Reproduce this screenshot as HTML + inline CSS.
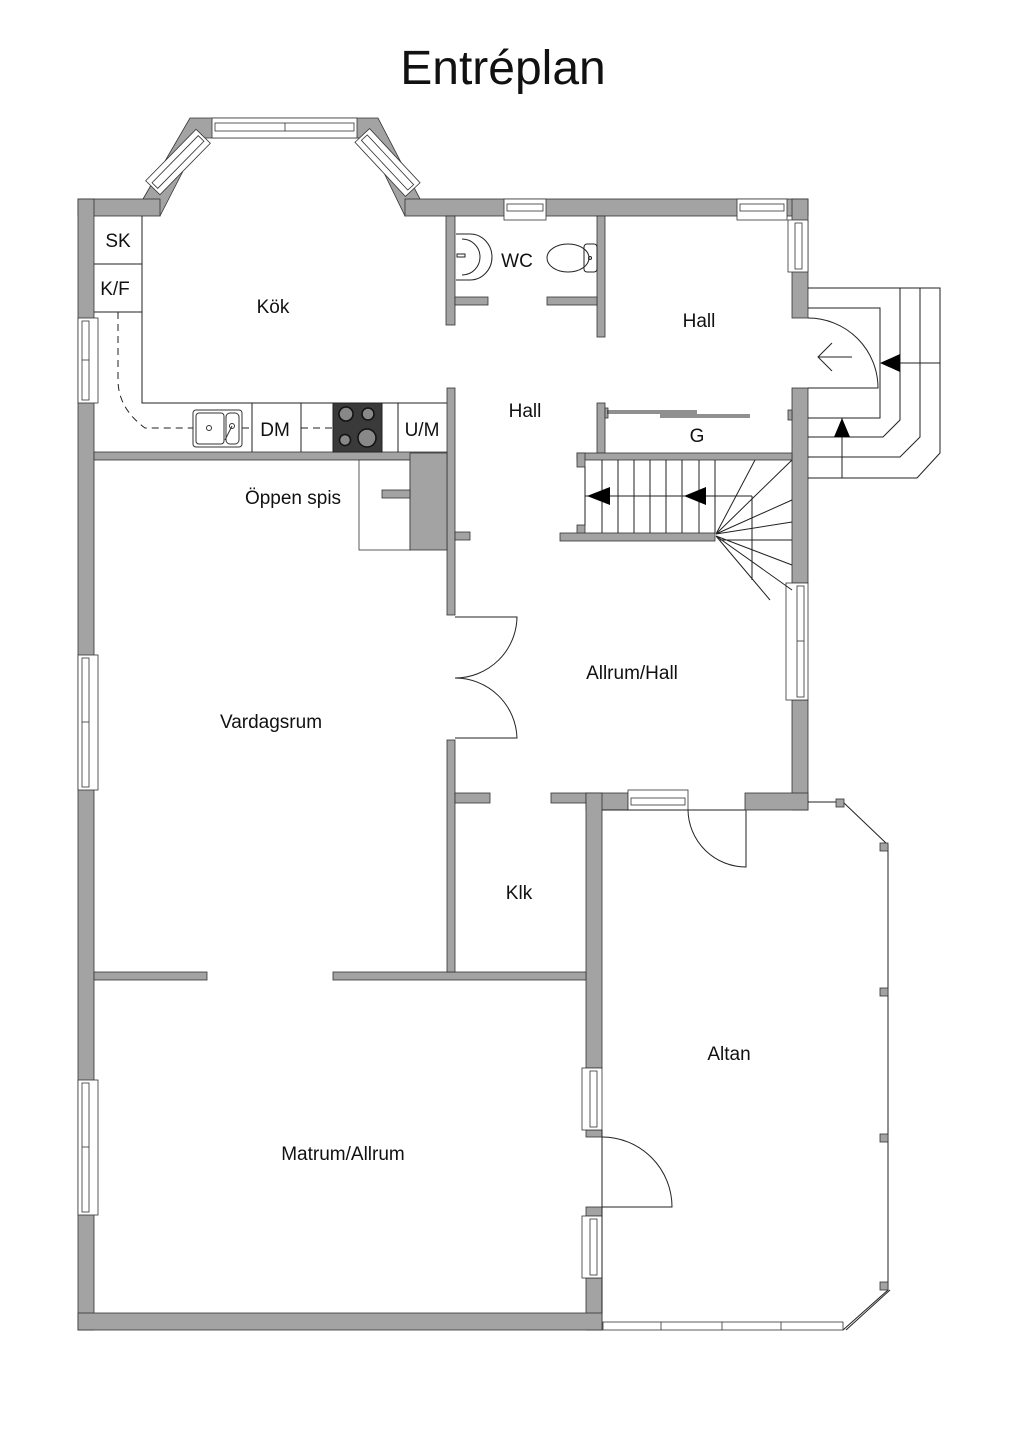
<!DOCTYPE html>
<html><head><meta charset="utf-8"><style>
html,body{margin:0;padding:0;background:#fff}
svg{display:block}
text{font-family:"Liberation Sans",sans-serif;fill:#111}
.w{fill:#a3a3a3;stroke:#333;stroke-width:0.8}
.l{fill:none;stroke:#222;stroke-width:1}
.win{fill:#fff;stroke:#333;stroke-width:0.8}
</style></head><body>
<svg width="1024" height="1448" viewBox="0 0 1024 1448" xmlns="http://www.w3.org/2000/svg">
<text x="503" y="84" font-size="48" text-anchor="middle">Entréplan</text>

<!-- bay band -->
<path class="w" fill-rule="evenodd" d="M143,199 L190,118 L378,118 L420,199 L405,216 L367,138 L200,138 L160,216 Z"/>
<!-- walls -->
<rect class="w" x="78" y="199" width="82" height="17"/>
<rect class="w" x="405" y="199" width="403" height="17"/>
<rect class="w" x="78" y="199" width="16" height="1131"/>
<rect class="w" x="792" y="199" width="16" height="119"/>
<rect class="w" x="792" y="388" width="16" height="195"/>
<rect class="w" x="792" y="700" width="16" height="110"/>
<rect class="w" x="745" y="793" width="63" height="17"/>
<rect class="w" x="586" y="793" width="42" height="17"/>
<rect class="w" x="551" y="793" width="35" height="10"/>
<rect class="w" x="586" y="793" width="16" height="275"/>
<rect class="w" x="586" y="1130" width="16" height="7"/>
<rect class="w" x="586" y="1207" width="16" height="9"/>
<rect class="w" x="586" y="1278" width="16" height="52"/>
<rect class="w" x="78" y="1313" width="524" height="17"/>
<rect class="w" x="94" y="972" width="113" height="8"/>
<rect class="w" x="333" y="972" width="253" height="8"/>
<rect class="w" x="447" y="740" width="8" height="232"/>
<rect class="w" x="455" y="793" width="35" height="10"/>
<rect class="w" x="447" y="388" width="8" height="227"/>
<rect class="w" x="455" y="532" width="15" height="8"/>
<rect class="w" x="94" y="452" width="353" height="8"/>
<rect x="359" y="460" width="51" height="90" fill="#fff" stroke="#333" stroke-width="0.8"/>
<rect class="w" x="410" y="453" width="37" height="97"/>
<rect class="w" x="382" y="490" width="28" height="8"/>
<rect class="w" x="446" y="216" width="9" height="109"/>
<rect class="w" x="455" y="297" width="33" height="8"/>
<rect class="w" x="597" y="216" width="8" height="121"/>
<rect class="w" x="547" y="297" width="50" height="8"/>
<rect class="w" x="597" y="403" width="8" height="50"/>
<rect class="w" x="605" y="408" width="3" height="10"/>
<rect class="w" x="577" y="453" width="215" height="7"/>
<rect class="w" x="577" y="453" width="8" height="14"/>
<rect class="w" x="577" y="525" width="8" height="10"/>
<rect class="w" x="560" y="533" width="155" height="8"/>
<rect class="w" x="788" y="410" width="4" height="10"/>

<!-- windows -->
<g class="win">
<rect x="212" y="118" width="145" height="20"/><rect x="215" y="123" width="139" height="8"/><line x1="285" y1="123" x2="285" y2="131"/>
<g transform="translate(178,162) rotate(-45.6)"><rect x="-36" y="-10" width="72" height="20"/><rect x="-33" y="-4" width="66" height="8"/></g>
<g transform="translate(387.5,162.5) rotate(47)"><rect x="-37" y="-10" width="74" height="20"/><rect x="-34" y="-4" width="68" height="8"/></g>
<rect x="504" y="199" width="42" height="21"/><rect x="507" y="204" width="36" height="7"/>
<rect x="737" y="199" width="50" height="21"/><rect x="740" y="204" width="44" height="7"/>
<rect x="788" y="220" width="20" height="52"/><rect x="795" y="223" width="7" height="46"/>
<rect x="78" y="318" width="20" height="85"/><rect x="82" y="321" width="7" height="79"/><line x1="82" y1="360" x2="89" y2="360"/>
<rect x="786" y="583" width="22" height="117"/><rect x="797" y="586" width="7" height="111"/><line x1="797" y1="641" x2="804" y2="641"/>
<rect x="628" y="790" width="60" height="20"/><rect x="631" y="798" width="54" height="7"/>
<rect x="78" y="655" width="20" height="135"/><rect x="82" y="658" width="7" height="129"/><line x1="82" y1="722" x2="89" y2="722"/>
<rect x="78" y="1080" width="20" height="135"/><rect x="82" y="1083" width="7" height="129"/><line x1="82" y1="1147" x2="89" y2="1147"/>
<rect x="582" y="1068" width="20" height="62"/><rect x="590" y="1071" width="7" height="56"/>
<rect x="582" y="1216" width="20" height="62"/><rect x="590" y="1219" width="7" height="56"/>
<rect x="603" y="1322" width="240" height="8"/><line x1="661" y1="1322" x2="661" y2="1330"/><line x1="722" y1="1322" x2="722" y2="1330"/><line x1="781" y1="1322" x2="781" y2="1330"/>
</g>

<!-- altan outline -->
<g class="l">
<path d="M602,810 H745 M808,802 H843 L888,845 V1290 L843,1330 M602,1130 V1313"/>
<path d="M846,1330 L890,1290"/>
<path d="M455,617 H517 A62,62 0 0 1 455,678 M455,738 H517 A62,62 0 0 0 455,678"/>
<path d="M746,810 V867 A58,58 0 0 1 688,810"/>
<path d="M602,1207 H672 A70,70 0 0 0 602,1137"/>
<path d="M808,318 A70,70 0 0 1 878,388 H808"/>
<path d="M852,357 H818 M832,343 L818,357 L832,371"/>
</g>
<g fill="#a3a3a3" stroke="#333" stroke-width="0.8">
<rect x="836" y="799" width="8" height="8"/><rect x="880" y="843" width="8" height="8"/>
<rect x="880" y="988" width="8" height="8"/><rect x="880" y="1134" width="8" height="8"/><rect x="880" y="1282" width="8" height="8"/>
</g>

<!-- entry steps -->
<g class="l">
<path d="M808,288 H940 V453 L917,478 H808"/>
<path d="M920,288 V437 L900,457 H808"/>
<path d="M900,288 V420 L883,437 H808"/>
<path d="M808,308 H880 V418 H808"/>
<path d="M900,363 H940 M842,418 V478"/>
</g>
<polygon points="880,363 900,354 900,372" fill="#000"/>
<polygon points="842,418 834,437 850,437" fill="#000"/>

<!-- stairs -->
<g class="l" stroke-width="0.9">
<path d="M585,467 V525"/>
<path d="M602,460 V533 M618,460 V533 M634,460 V533 M650,460 V533 M666,460 V533 M682,460 V533 M699,460 V533 M715,460 V533"/>
<path d="M585,496 H752 M752,496 V580 M720,540 H792"/>
<path d="M716,534 L755,460 M716,534 L792,460 M716,534 L792,500 M716,534 L792,522 M716,536 L792,565 M716,536 L792,590 M716,536 L770,600"/>
</g>
<polygon points="587,496 610,487 610,505" fill="#000"/>
<polygon points="684,496 706,487 706,505" fill="#000"/>

<!-- kitchen -->
<g class="l">
<path d="M142,216 V403 H447 M94,264 H142 M94,312 H142 M252,403 V452 M301,403 V452 M398,403 V452"/>
<path stroke-dasharray="7,5" d="M118,312 V380 Q118,408 145,428 H193 M242,428 H252 M301,428 H333"/>
<line x1="607" y1="411" x2="697" y2="411"/><line x1="607" y1="413" x2="697" y2="413"/>
<line x1="660" y1="415" x2="750" y2="415"/><line x1="660" y1="417" x2="750" y2="417"/>
</g>
<rect x="193" y="410" width="49" height="37" rx="3" fill="#fff" stroke="#333"/>
<rect x="196" y="413" width="28" height="31" rx="3" fill="#fff" stroke="#333"/>
<rect x="226" y="413" width="13" height="31" rx="4" fill="#fff" stroke="#333"/>
<circle cx="209" cy="428" r="2.5" fill="none" stroke="#333"/><circle cx="232" cy="426" r="2.5" fill="none" stroke="#333"/>
<line x1="232" y1="426" x2="225" y2="440" stroke="#333"/>
<rect x="333" y="403" width="49" height="49" fill="#3a3a3a" stroke="#222"/>
<g fill="#888" stroke="#111" stroke-width="1.5">
<circle cx="346" cy="414" r="7"/><circle cx="368" cy="414" r="6"/><circle cx="345" cy="440" r="5.5"/><circle cx="367" cy="438" r="9"/>
</g>

<!-- WC fixtures -->
<g class="l">
<path d="M456,234 H470 A22,23 0 0 1 470,280 H456"/>
<path d="M462,239 A18,18 0 0 1 462,275"/>
<rect x="457" y="254" width="8" height="3"/>
<ellipse cx="568" cy="258" rx="21" ry="14"/>
<rect x="584" y="244" width="13" height="28" rx="3"/>
<circle cx="590" cy="258" r="1.5"/>
</g>

<!-- labels -->
<g font-size="19" text-anchor="middle">
<text x="118" y="247">SK</text>
<text x="115" y="295">K/F</text>
<text x="273" y="313">Kök</text>
<text x="517" y="267">WC</text>
<text x="699" y="327">Hall</text>
<text x="525" y="417">Hall</text>
<text x="275" y="436">DM</text>
<text x="422" y="436">U/M</text>
<text x="697" y="442">G</text>
<text x="293" y="504">Öppen spis</text>
<text x="632" y="679">Allrum/Hall</text>
<text x="271" y="728">Vardagsrum</text>
<text x="519" y="899">Klk</text>
<text x="729" y="1060">Altan</text>
<text x="343" y="1160">Matrum/Allrum</text>
</g>
</svg>
</body></html>
